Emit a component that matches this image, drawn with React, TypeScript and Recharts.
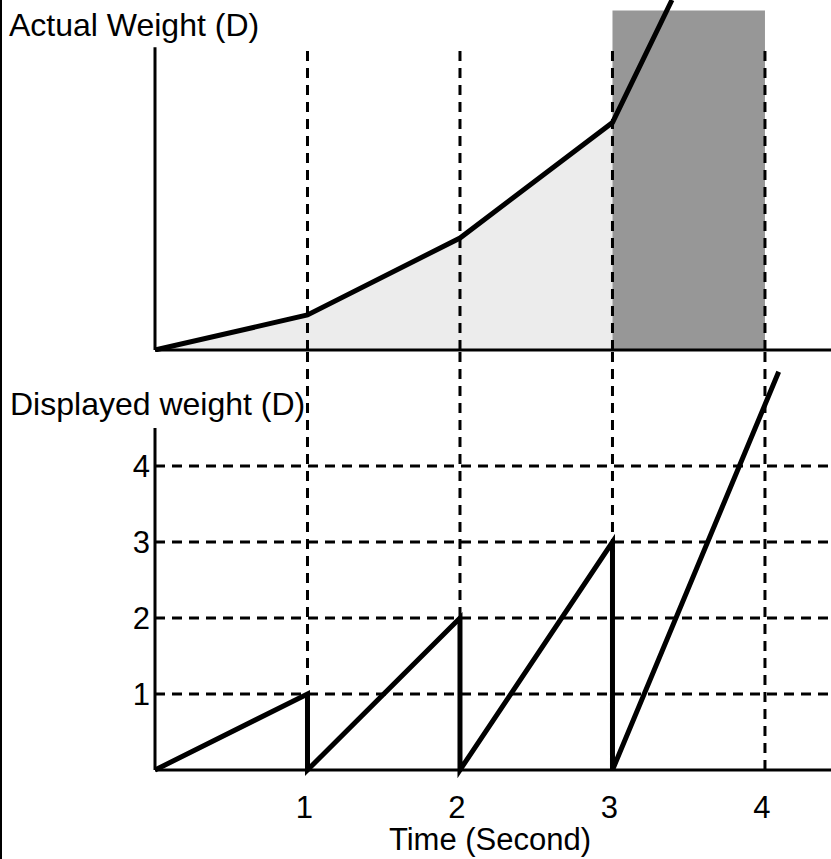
import { ComposedChart, Line, Area, XAxis, YAxis, ReferenceLine, ReferenceArea } from 'recharts';

const seconds = [1, 2, 3, 4];
const weightTicks = [1, 2, 3, 4];

// top panel: actual weight (last point runs off the top)
const actualTime = [0, 1, 2, 3, 3.39];
const actualWeight = [0, 1, 3.2, 6.5, 10];
const shadedWeight = [0, 1, 3.2, 6.5, null];

// bottom panel: displayed weight, resets every second
const displayTime = [0, 1, 1, 2, 2, 3, 3, 4.09];
const displayWeight = [0, 1, 0, 2, 0, 3, 0, 5.24];

const actualData = actualTime.map((t, i) => ({ t, actual: actualWeight[i], shaded: shadedWeight[i] }));
const displayData = displayTime.map((t, i) => ({ t, shown: displayWeight[i] }));

const FONT = '"Liberation Sans", Arial, sans-serif';
const DASH = '10 7';
const xMax = 4.433;

const SecondTick = ({ x, y, payload }: any) => (
  <text x={x - 3} y={y} dy={40} textAnchor="middle" fontSize={31} fontFamily={FONT} fill="#000">
    {payload.value}
  </text>
);

const WeightTick = ({ x, y, payload }: any) => (
  <text x={x + 3} y={y} dy={11} textAnchor="end" fontSize={31} fontFamily={FONT} fill="#000">
    {payload.value}
  </text>
);

export default function App() {
  return (
    <div style={{ position: 'absolute', left: 0, top: 0, width: 831, height: 859, background: '#fff', borderLeft: '2px solid #000', boxSizing: 'border-box' }}>
      <div style={{ position: 'absolute', left: -2, top: 0 }}>
        <ComposedChart width={831} height={352} data={actualData} margin={{ top: 0, right: 0, left: 155, bottom: 2 }}>
          <XAxis type="number" dataKey="t" domain={[0, xMax]} hide />
          <YAxis type="number" domain={[0, 10]} hide />
          <Area dataKey="shaded" type="linear" stroke="none" fill="#ececec" fillOpacity={1} isAnimationActive={false} />
          <ReferenceArea x1={3} x2={4} y1={0} y2={9.7} fill="#979797" fillOpacity={1} stroke="none" />
          {seconds.map((s) => (
            <ReferenceLine key={s} segment={[{ x: s, y: 0 }, { x: s, y: 8.6 }]} stroke="#000" strokeWidth={3} strokeDasharray={DASH} />
          ))}
          <ReferenceLine y={0} stroke="#000" strokeWidth={3} />
          <ReferenceLine segment={[{ x: 0, y: 0 }, { x: 0, y: 8.65 }]} stroke="#000" strokeWidth={3} />
          <Line dataKey="actual" type="linear" stroke="#000" strokeWidth={5} dot={false} activeDot={false} isAnimationActive={false} />
        </ComposedChart>
        <ComposedChart width={831} height={507} data={displayData} margin={{ top: 0, right: 0, left: 0, bottom: 0 }}>
          <XAxis
            type="number"
            dataKey="t"
            domain={[0, xMax]}
            ticks={seconds}
            height={89}
            tickLine={false}
            axisLine={{ stroke: '#000', strokeWidth: 3 }}
            tick={<SecondTick />}
          />
          <YAxis type="number" domain={[0, 5.5]} ticks={weightTicks} width={155} axisLine={false} tickLine={false} tick={<WeightTick />} />
          {weightTicks.map((w) => (
            <ReferenceLine key={`h${w}`} y={w} stroke="#000" strokeWidth={3} strokeDasharray={DASH} />
          ))}
          {seconds.map((s) => (
            <ReferenceLine key={`v${s}`} x={s} stroke="#000" strokeWidth={3} strokeDasharray={DASH} />
          ))}
          <ReferenceLine segment={[{ x: 0, y: 0 }, { x: 0, y: 4.5 }]} stroke="#000" strokeWidth={3} />
          <Line dataKey="shown" type="linear" stroke="#000" strokeWidth={5} dot={false} activeDot={false} isAnimationActive={false} />
        </ComposedChart>
      </div>
      <svg width={831} height={859} style={{ position: 'absolute', left: -2, top: 0, pointerEvents: 'none' }}>
        <text x={9} y={36} fontSize={32} fontFamily={FONT} fill="#000">Actual Weight (D)</text>
        <text x={10} y={415} fontSize={32} fontFamily={FONT} fill="#000">Displayed weight (D)</text>
        <text x={490} y={850} textAnchor="middle" fontSize={31} fontFamily={FONT} fill="#000">Time (Second)</text>
      </svg>
    </div>
  );
}
